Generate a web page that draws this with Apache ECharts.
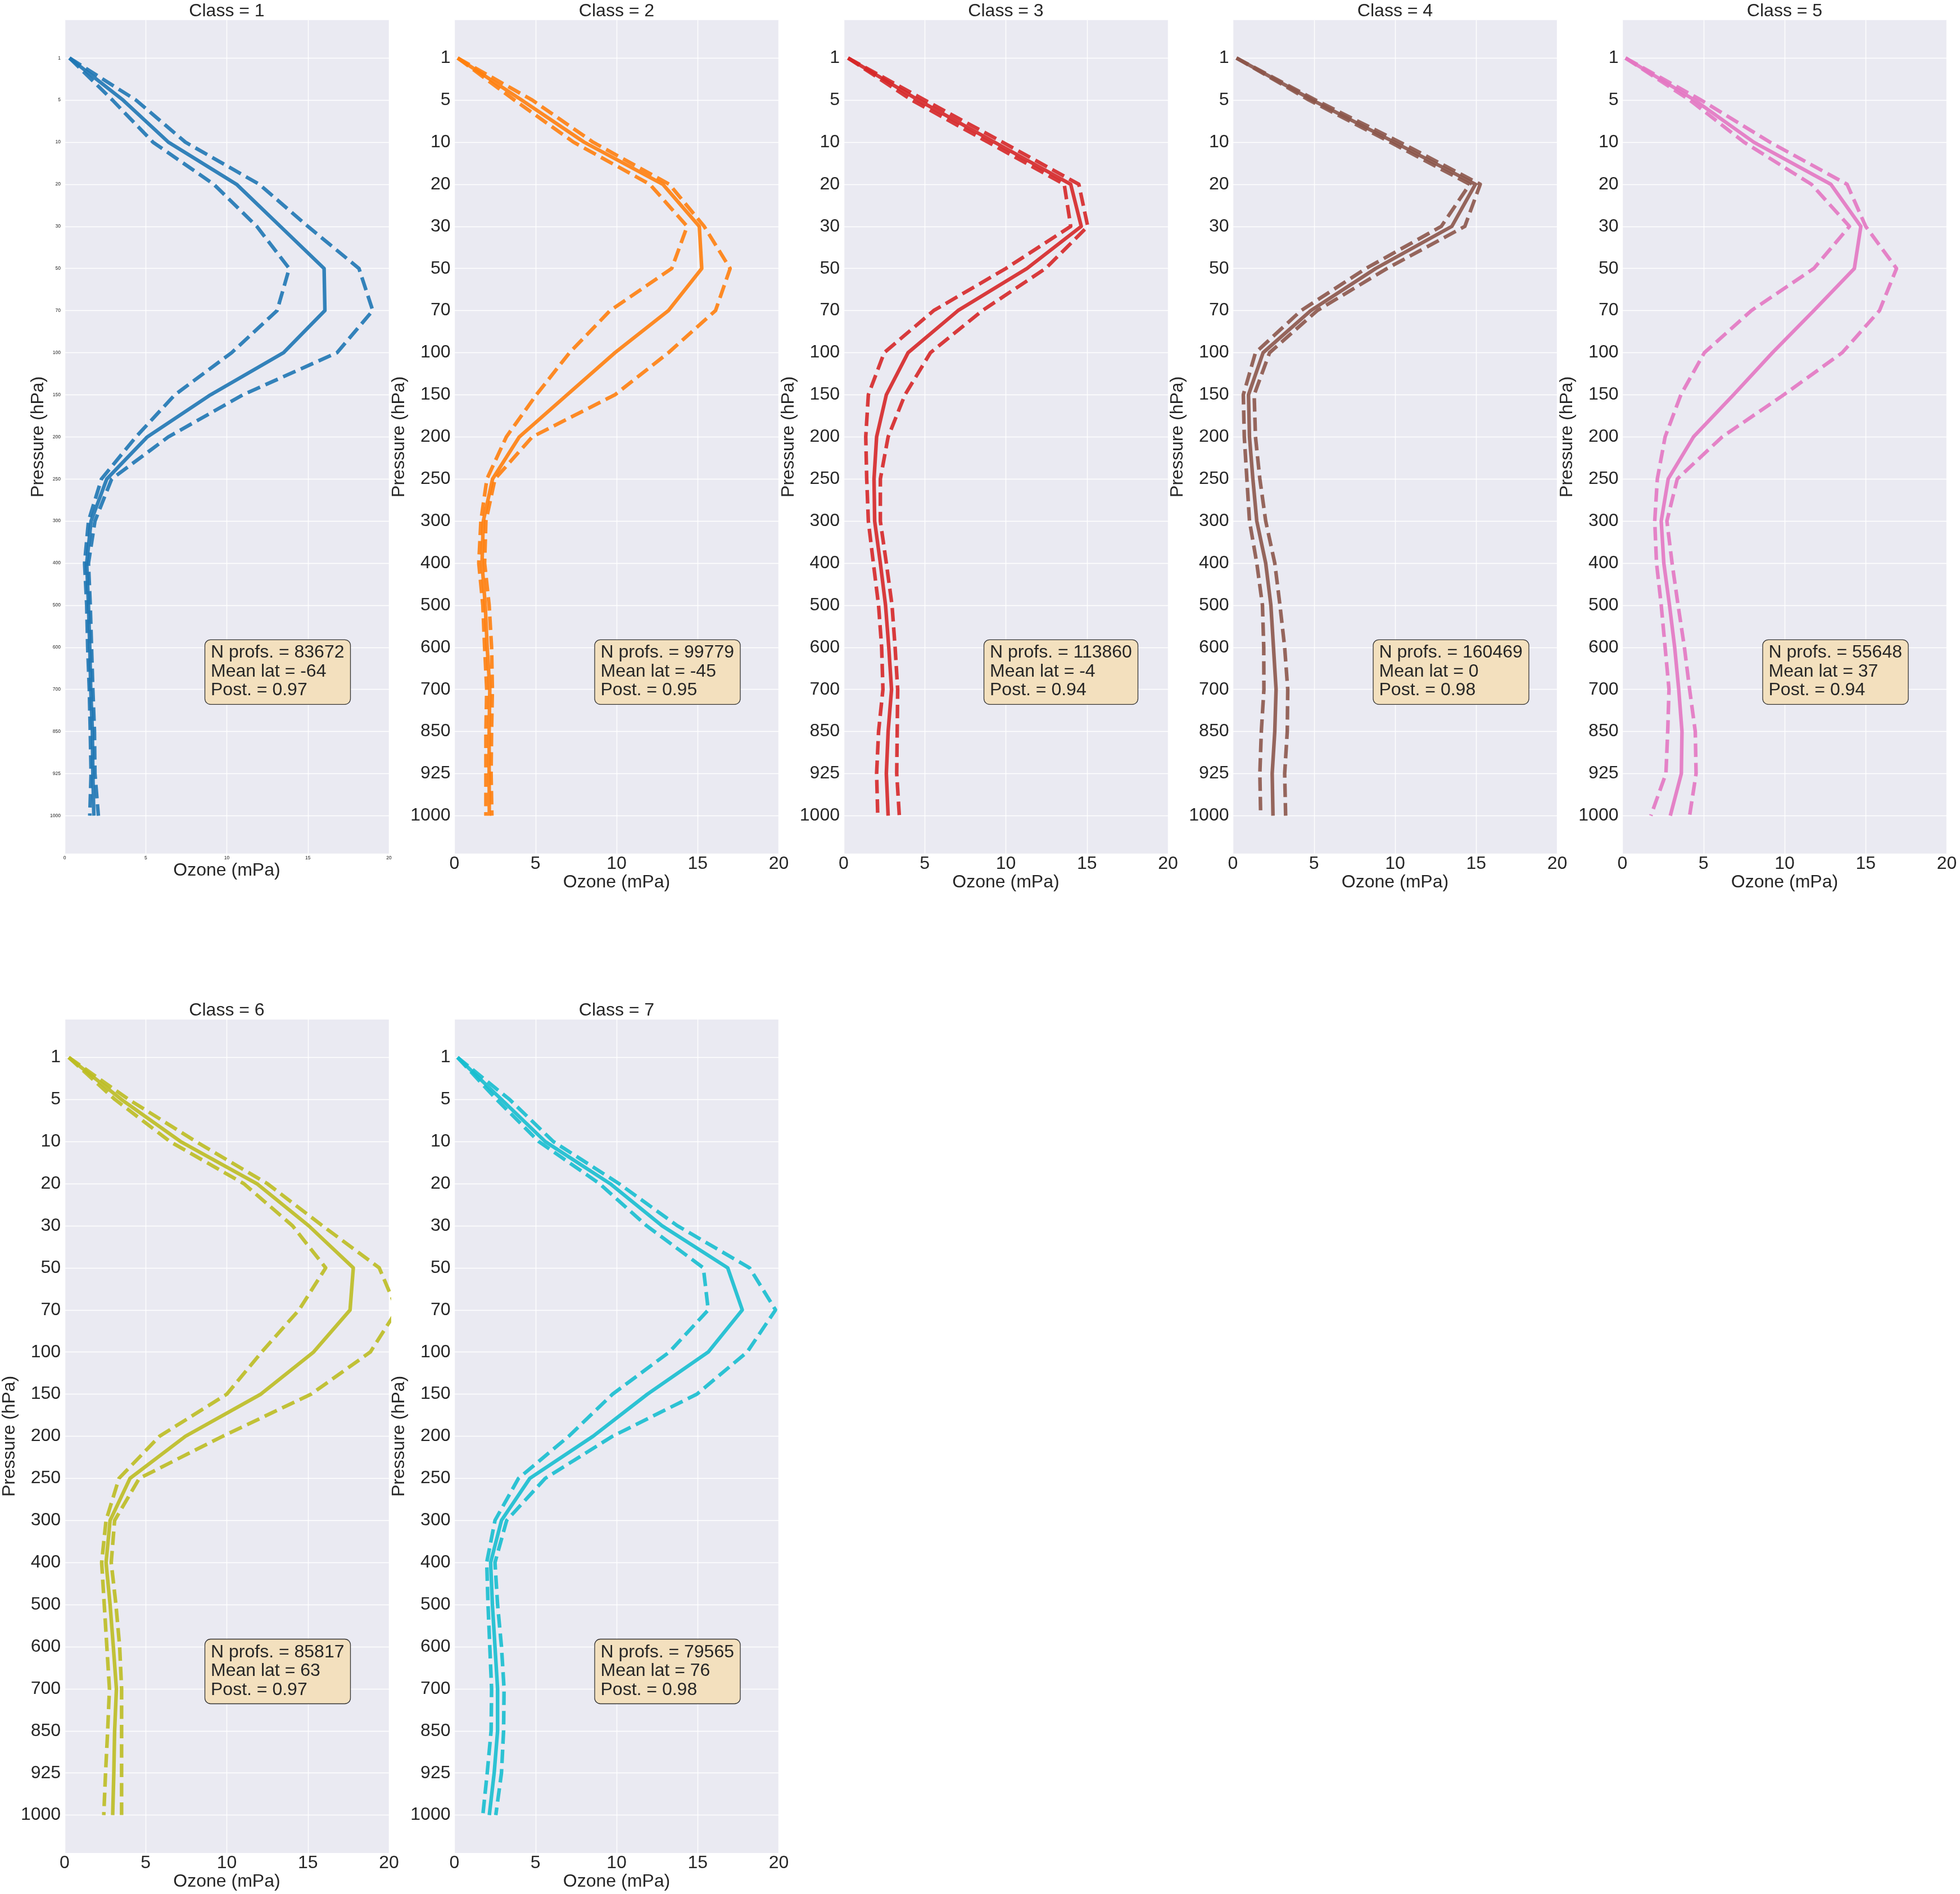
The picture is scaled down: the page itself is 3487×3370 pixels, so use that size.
<!DOCTYPE html>
<html>
<head>
<meta charset="utf-8">
<script src="https://cdn.jsdelivr.net/npm/echarts@6/dist/echarts.min.js"></script>
<style>
html,body{margin:0;padding:0;background:#ffffff;}
#chart{width:3487px;height:3370px;}
</style>
</head>
<body>
<div id="chart"></div>
<script>
// ---------------- DATA ----------------
const levels = ['1','5','10','20','30','50','70','100','150','200','250','300','400','500','600','700','850','925','1000'];
const xTicks = [0, 5, 10, 15, 20];
const classNames = ['Class = 1','Class = 2','Class = 3','Class = 4','Class = 5','Class = 6','Class = 7'];
const colors = ['#1f77b4','#ff7f0e','#d62728','#8c564b','#e377c2','#bcbd22','#17becf'];
const nProfs = [83672, 99779, 113860, 160469, 55648, 85817, 79565];
const meanLat = [-64, -45, -4, 0, 37, 63, 76];
const post = ['0.97','0.95','0.94','0.98','0.94','0.97','0.98'];

const mean1 = [0.3, 3.6, 6.4, 10.6, 13.3, 16.0, 16.05, 13.5, 9.0, 5.1, 2.6, 1.63, 1.36, 1.47, 1.55, 1.61, 1.71, 1.74, 1.8];
const lo1   = [0.3, 2.95, 5.45, 9.2, 11.85, 13.85, 13.1, 10.3, 6.8, 4.4, 2.27, 1.47, 1.23, 1.36, 1.42, 1.52, 1.58, 1.63, 1.55];
const hi1   = [0.3, 4.4, 7.45, 12.0, 15.0, 18.15, 19.0, 16.8, 11.0, 6.4, 2.9, 1.87, 1.47, 1.58, 1.66, 1.74, 1.84, 1.87, 2.08];

const mean2 = [0.2, 4.15, 8.0, 12.85, 15.1, 15.25, 13.2, 9.9, 6.95, 4.0, 2.35, 1.78, 1.7, 1.9, 2.02, 2.18, 2.14, 2.14, 2.15];
const lo2   = [0.2, 3.7, 7.35, 12.05, 14.35, 13.4, 9.6, 7.1, 5.05, 3.2, 2.0, 1.63, 1.5, 1.75, 1.86, 1.99, 1.94, 1.94, 1.94];
const hi2   = [0.2, 4.8, 8.55, 13.25, 15.4, 17.0, 16.1, 13.2, 9.9, 4.8, 2.5, 1.94, 1.86, 2.14, 2.29, 2.34, 2.29, 2.26, 2.31];

const mean3 = [0.27, 4.6, 9.3, 14.0, 14.65, 11.3, 7.05, 3.97, 2.63, 2.03, 1.87, 1.91, 2.26, 2.58, 2.78, 2.95, 2.74, 2.63, 2.74];
const lo3   = [0.27, 4.2, 8.9, 13.6, 14.0, 10.0, 5.55, 2.5, 1.52, 1.36, 1.42, 1.52, 1.83, 2.15, 2.34, 2.42, 2.15, 2.03, 2.1];
const hi3   = [0.27, 5.0, 9.8, 14.5, 15.05, 12.45, 8.55, 5.35, 3.78, 2.74, 2.26, 2.26, 2.63, 2.98, 3.17, 3.33, 3.3, 3.27, 3.43];

const mean4 = [0.22, 4.9, 9.95, 14.95, 13.5, 8.8, 4.8, 1.86, 0.96, 1.02, 1.23, 1.47, 2.02, 2.34, 2.5, 2.66, 2.58, 2.42, 2.47];
const lo4   = [0.22, 4.7, 9.7, 14.6, 12.85, 8.2, 4.2, 1.39, 0.64, 0.7, 0.86, 1.02, 1.47, 1.82, 1.9, 1.91, 1.75, 1.66, 1.71];
const hi4   = [0.22, 5.1, 10.3, 15.25, 14.3, 9.5, 5.2, 2.26, 1.31, 1.39, 1.66, 2.02, 2.58, 2.9, 3.19, 3.38, 3.35, 3.19, 3.25];

const mean5 = [0.19, 4.45, 8.1, 12.85, 14.7, 14.3, 11.8, 9.25, 6.85, 4.38, 2.82, 2.39, 2.55, 2.9, 3.22, 3.47, 3.67, 3.63, 2.95];
const lo5   = [0.19, 4.15, 7.5, 11.65, 14.0, 11.8, 7.95, 5.05, 3.6, 2.63, 2.15, 1.99, 2.1, 2.39, 2.63, 2.87, 2.79, 2.68, 1.75];
const hi5   = [0.19, 4.85, 9.1, 13.85, 15.0, 16.9, 15.85, 13.55, 9.95, 6.15, 3.38, 2.74, 3.06, 3.43, 3.82, 4.14, 4.49, 4.54, 4.14];

const mean6 = [0.25, 3.5, 7.15, 11.85, 15.05, 17.8, 17.6, 15.35, 12.1, 7.45, 4.03, 2.8, 2.55, 2.8, 3.0, 3.19, 3.08, 3.03, 2.96];
const lo6   = [0.25, 3.1, 6.5, 11.05, 14.05, 16.1, 14.45, 12.15, 10.0, 5.85, 3.35, 2.55, 2.28, 2.44, 2.6, 2.76, 2.65, 2.52, 2.41];
const hi6   = [0.25, 3.95, 8.1, 12.5, 15.9, 19.4, 20.5, 18.85, 15.2, 9.75, 4.6, 3.08, 2.87, 3.16, 3.39, 3.51, 3.51, 3.51, 3.51];

const mean7 = [0.19, 2.9, 5.6, 9.6, 12.8, 16.85, 17.75, 15.65, 11.9, 8.55, 4.65, 2.9, 2.23, 2.34, 2.5, 2.66, 2.66, 2.45, 2.15];
const lo7   = [0.19, 2.6, 5.2, 8.95, 11.85, 15.35, 15.65, 13.25, 9.75, 7.05, 3.95, 2.5, 1.99, 2.07, 2.18, 2.29, 2.26, 2.02, 1.75];
const hi7   = [0.19, 3.4, 6.1, 10.15, 13.75, 18.2, 19.8, 18.05, 14.95, 9.75, 5.6, 3.22, 2.5, 2.66, 2.9, 3.06, 3.03, 2.9, 2.55];

const means = [mean1, mean2, mean3, mean4, mean5, mean6, mean7];
const lows  = [lo1, lo2, lo3, lo4, lo5, lo6, lo7];
const highs = [hi1, hi2, hi3, hi4, hi5, hi6, hi7];

// ---------------- LAYOUT ----------------
const FONT = "'Liberation Sans', Arial, sans-serif";
const TXT = '#262626';
const colLefts = [115, 808.5, 1501, 2193.5, 2886.5];
const rowTops = [35.8, 1814];
const PW = 577, PH = 1483;
const PAD = PH * 0.9 / (levels.length - 1 + 1.8);

const grids = [], xAxes = [], yAxes = [], series = [], titles = [];

classNames.forEach((name, k) => {
  const col = k % 5, row = Math.floor(k / 5);
  const L = colLefts[col], T = rowTops[row];
  const small = (k === 0);
  const tickFs = small ? 8.5 : 32;
  const gOuter = grids.length;
  grids.push({ left: L, top: T, width: PW, height: PH, show: true, backgroundColor: '#EAEAF2', borderWidth: 0 });
  const gInner = grids.length;
  grids.push({ left: L, top: T + PAD, width: PW, height: PH - 2 * PAD, show: false });

  xAxes.push({
    gridIndex: gOuter, type: 'value',
    min: xTicks[0], max: xTicks[xTicks.length - 1], interval: xTicks[1] - xTicks[0],
    axisLine: { show: false }, axisTick: { show: false },
    splitLine: { show: true, lineStyle: { color: '#ffffff', width: 1.4 } },
    axisLabel: { fontSize: tickFs, color: TXT, fontFamily: FONT, margin: small ? 3 : 2, showMinLabel: true, showMaxLabel: true },
    name: 'Ozone (mPa)', nameLocation: 'middle', nameGap: small ? 14 : 33,
    nameTextStyle: { fontSize: 32, color: TXT, fontFamily: FONT }
  });
  yAxes.push({ gridIndex: gOuter, type: 'value', min: 0, max: 1, show: false });

  xAxes.push({ gridIndex: gInner, type: 'value', min: xTicks[0], max: xTicks[xTicks.length - 1], show: false });
  yAxes.push({
    gridIndex: gInner, type: 'category', data: levels, inverse: true, boundaryGap: false,
    axisLine: { show: false }, axisTick: { show: false },
    splitLine: { show: true, interval: 0, lineStyle: { color: '#ffffff', width: 1.4 } },
    axisLabel: { interval: 0, fontSize: tickFs, color: TXT, fontFamily: FONT, margin: 7 },
    name: 'Pressure (hPa)', nameLocation: 'middle', nameRotate: 90, nameGap: small ? 31 : 80,
    nameTextStyle: { fontSize: 32, color: TXT, fontFamily: FONT }
  });

  const c = colors[k];
  const mk = (arr, dashed) => ({
    type: 'line', xAxisIndex: gInner, yAxisIndex: gInner,
    data: arr.map((v, i) => [v, levels[i]]),
    symbol: 'none', showSymbol: false, silent: true, color: c,
    lineStyle: { color: c, width: 6.4, opacity: 0.9, type: dashed ? [24, 10.5] : 'solid', cap: 'butt', join: 'round' }
  });
  series.push(mk(lows[k], true));
  series.push(mk(highs[k], true));
  series.push(mk(means[k], false));

  titles.push({
    text: name, left: L + PW / 2, top: T - 32, textAlign: 'center', padding: 0,
    textStyle: { fontSize: 32, fontWeight: 'normal', color: TXT, fontFamily: FONT }
  });
  titles.push({
    text: 'N profs. = ' + nProfs[k] + '\nMean lat = ' + meanLat[k] + '\nPost. = ' + post[k],
    left: L + 249, top: T + 1102,
    backgroundColor: '#F3E0BE', borderColor: '#333333', borderWidth: 1.3, borderRadius: 10,
    padding: [7, 11, 8, 11],
    textStyle: { fontSize: 32, lineHeight: 33.5, fontWeight: 'normal', color: TXT, fontFamily: FONT }
  });
});

const chart = echarts.init(document.getElementById('chart'), null, { renderer: 'canvas' });
chart.setOption({
  backgroundColor: '#ffffff',
  animation: false,
  title: titles,
  grid: grids,
  xAxis: xAxes,
  yAxis: yAxes,
  series: series
});
</script>
</body>
</html>
